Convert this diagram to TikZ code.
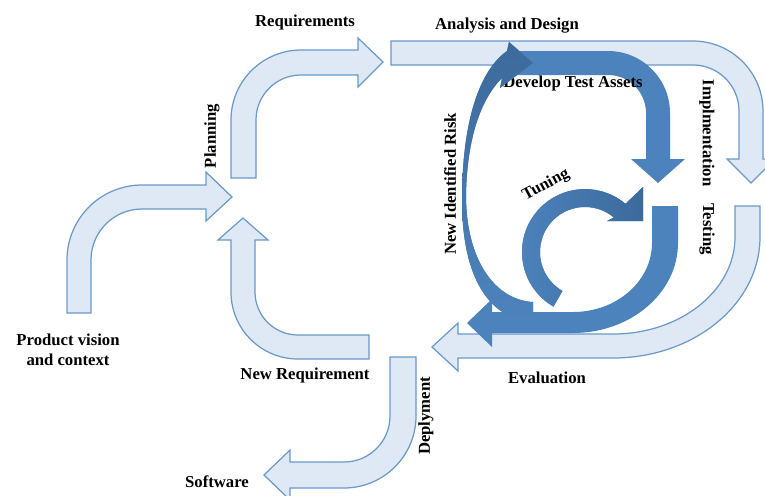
\documentclass[tikz,border=0pt]{standalone}
\usepackage{fontspec}
\setmainfont{Liberation Serif}
\definecolor{palefill}{RGB}{222,233,245}
\definecolor{paleedge}{RGB}{106,153,203}
\definecolor{midblue}{RGB}{77,131,189}
\definecolor{deepblue}{RGB}{60,106,156}
\tikzset{
  pale/.style={fill=palefill, draw=paleedge, line width=0.7pt},
  band/.style={fill=midblue},
  lbl/.style={font=\bfseries\fontsize{9.5}{11.5}\selectfont, inner sep=0pt},
}
\begin{document}
\begin{tikzpicture}[x=0.02cm, y=-0.02cm]
  \useasboundingbox (0,0) rectangle (765,495);

  % Outer cycle (pale arrows)
  \path[pale] (67,313) -- (67,260) arc[start angle=180, end angle=270, radius=75]
    -- (206,185) -- (206,172) -- (232,197) -- (206,221) -- (206,209) -- (142,209)
    arc[start angle=270, end angle=180, radius=51] -- (91,313) -- cycle;
  \path[pale] (231,178) -- (231,120) arc[start angle=180, end angle=270, radius=70]
    -- (358,50) -- (358,38) -- (383,62) -- (358,87) -- (358,75) -- (301,75)
    arc[start angle=270, end angle=180, radius=45] -- (256,178) -- cycle;
  \path[pale] (391,41) -- (693,41) arc[start angle=270, end angle=360, radius=70]
    -- (763,159) -- (775,159) -- (751,183) -- (727,159) -- (739,159) -- (739,111)
    arc[start angle=0, end angle=-90, radius=46] -- (391,65) -- cycle;
  \path[pale] (735,206) -- (760,206) -- (760,237)
    arc[start angle=0, end angle=90, x radius=147, y radius=121]
    -- (458,358) -- (458,371) -- (432,347) -- (458,323) -- (458,334) -- (613,334)
    arc[start angle=90, end angle=0, x radius=122, y radius=97] -- cycle;
  \path[pale] (369,359) -- (298,359) arc[start angle=90, end angle=180, radius=67]
    -- (231,240) -- (218,240) -- (243,218) -- (268,240) -- (255,240) -- (255,292)
    arc[start angle=180, end angle=90, radius=43] -- (369,335) -- cycle;
  \path[pale] (390,357) -- (416,357) -- (416,416) arc[start angle=0, end angle=90, radius=72]
    -- (290,488) -- (290,500) -- (264,475) -- (290,450) -- (290,462) -- (344,462)
    arc[start angle=90, end angle=0, radius=46] -- cycle;

  % Inner cycle (dark arrows)
  \path[band] (652,206) -- (678,206) -- (678,243)
    arc[start angle=0, end angle=90, x radius=105, y radius=90]
    -- (492,333) -- (492,347) -- (467,323) -- (492,299) -- (492,312) -- (573,312)
    arc[start angle=90, end angle=0, x radius=79, y radius=69] -- cycle;
  \path[band] (515,51) -- (608,51) arc[start angle=270, end angle=360, radius=62]
    -- (670,159) -- (685,159) -- (658,183) -- (631,159) -- (646,159) -- (646,113)
    arc[start angle=0, end angle=-90, radius=38] -- (515,75) -- cycle;

  \node[lbl] (dta) at (573,83) {Develop Test Assets};

  \path[band, top color=deepblue, bottom color=midblue]
    (533,323) .. controls (490,318) and (462,280) .. (462,200)
    .. controls (462,120) and (480,70) .. (507,51)
    -- (509,42) -- (533,63) -- (500,88) -- (502,78)
    .. controls (480,100) and (467,140) .. (466,195)
    .. controls (466,260) and (495,300) .. (533,302) -- cycle;
  \path[band, left color=midblue, right color=deepblue]
    (553.5,306.6) arc[start angle=120, end angle=310, radius=63]
    -- (643,187) -- (643,221) -- (607,221) -- (613.9,217.5)
    arc[start angle=310, end angle=120, radius=45] -- cycle;

  % Labels
  \node[lbl] (req) at (305,22) {Requirements};
  \node[lbl] (ad) at (507,26) {Analysis and Design};
  \node[lbl, rotate=-90] (impl) at (707,133) {Implmentation};
  \node[lbl, rotate=-90] (test) at (707,229) {Testing};
  \node[lbl, rotate=90] (risk) at (450,184) {New Identified Risk};
  \node[lbl, rotate=28] (tune) at (546,185) {Tuning};
  \node[lbl, rotate=90] (plan) at (212,136) {Planning};
  \node[lbl, align=center] (vision) at (68,350) {Product vision\\and context};
  \node[lbl] (newreq) at (305,375) {New Requirement};
  \node[lbl] (eval) at (547,378) {Evaluation};
  \node[lbl, rotate=90] (deploy) at (426,416) {Deplyment};
  \node[lbl] (soft) at (217,482) {Software};
\end{tikzpicture}
\end{document}
